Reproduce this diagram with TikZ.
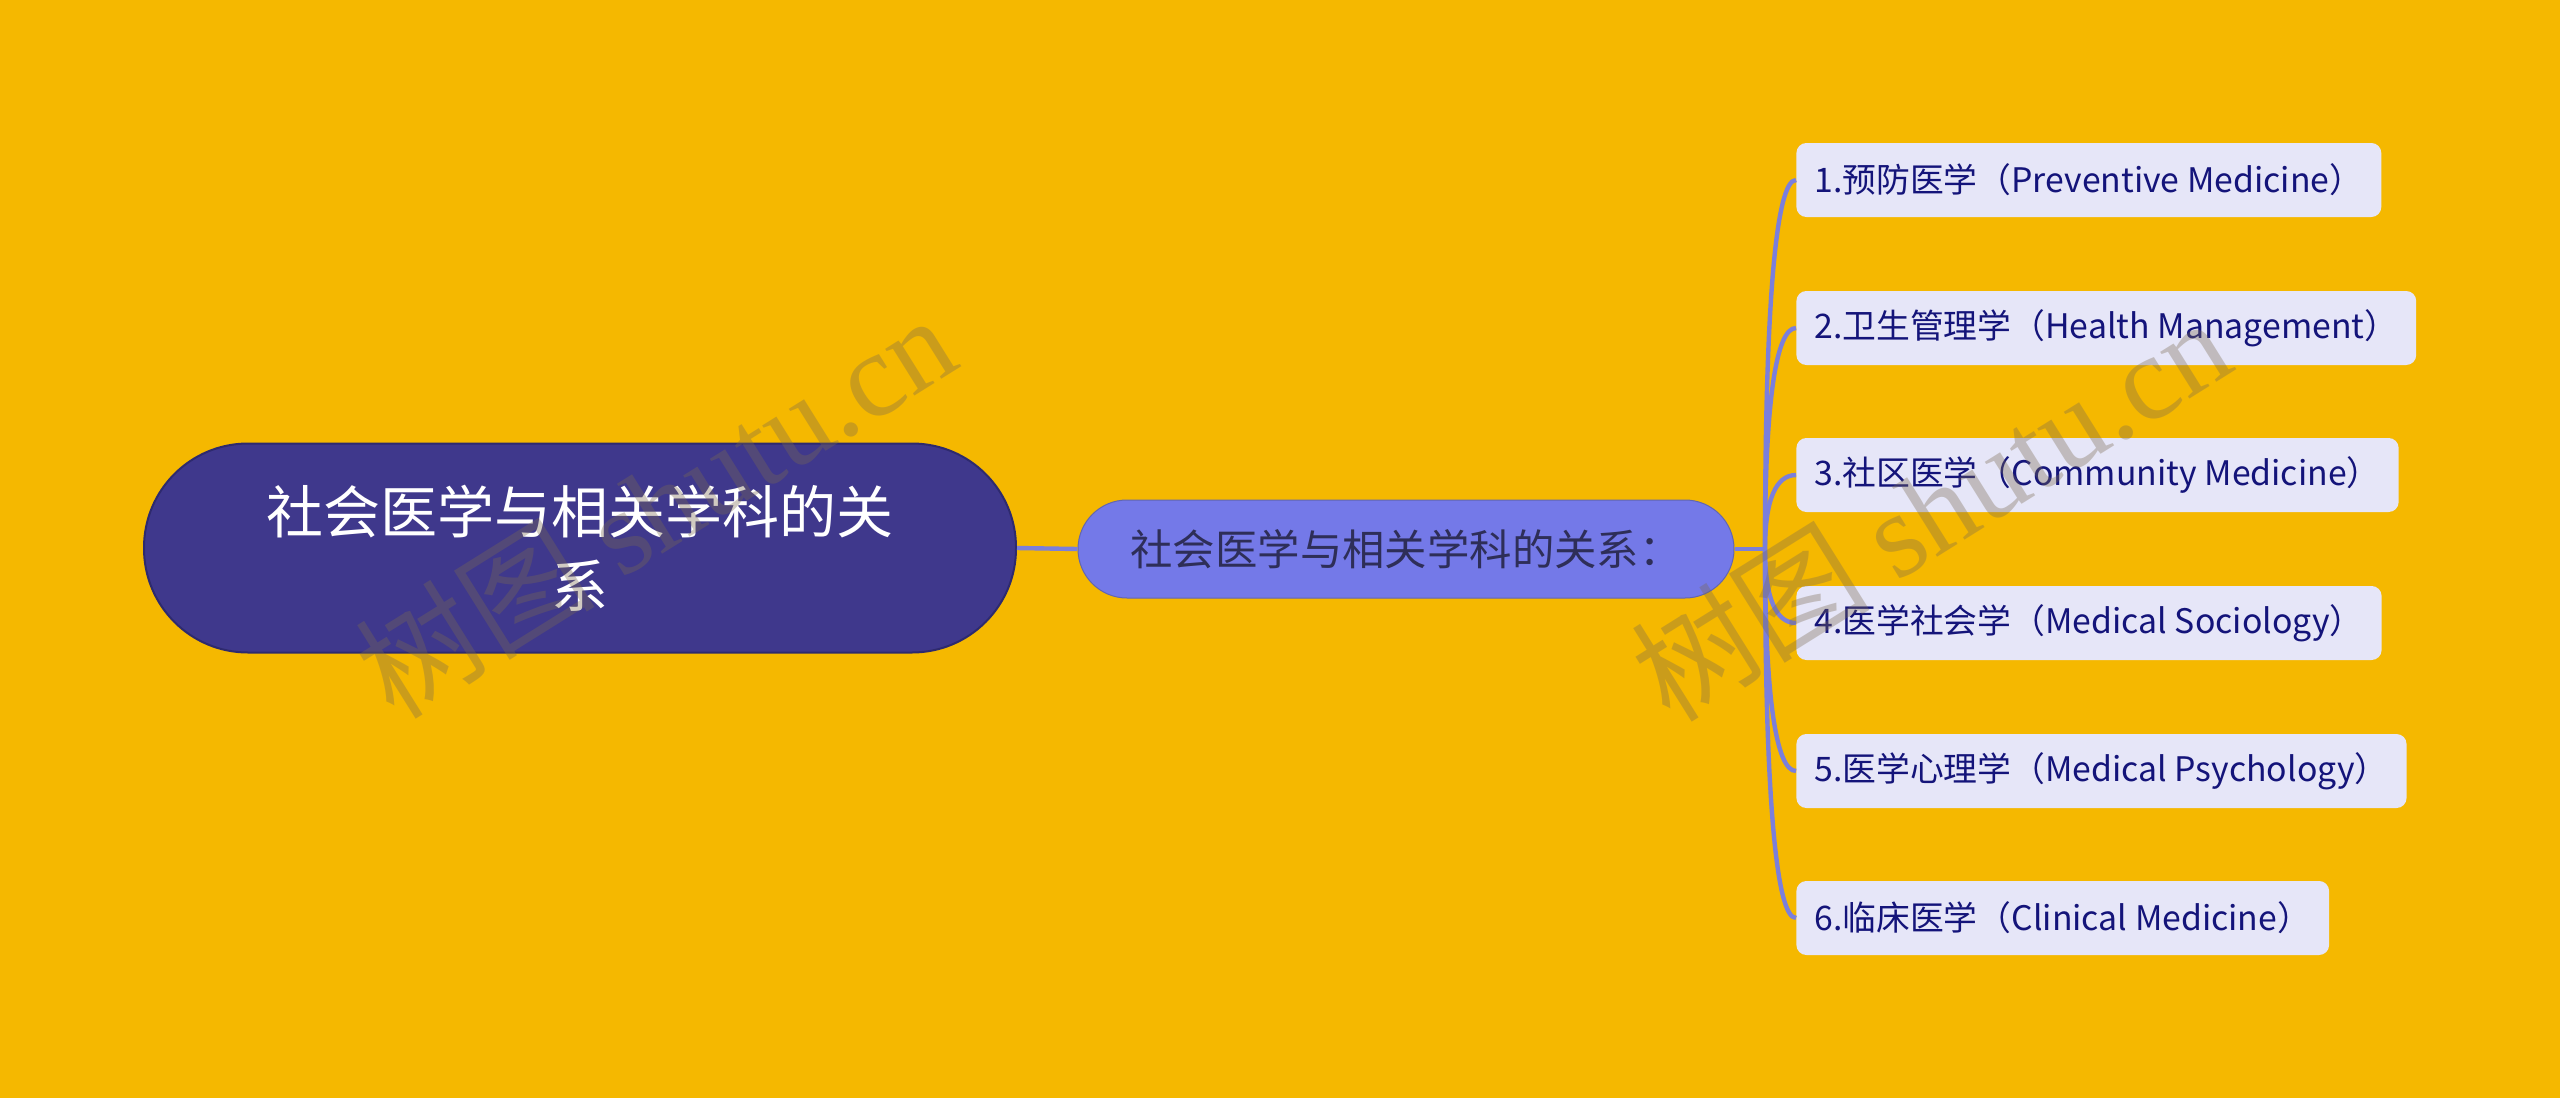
\documentclass[tikz,border=0pt]{standalone}
\usepackage{fontspec}
\setmainfont{Noto Sans CJK SC}
\newfontfamily\wmlatin{Liberation Serif}
\definecolor{bgc}{HTML}{F5B800}
\definecolor{rootfill}{HTML}{3F388C}
\definecolor{rootdraw}{HTML}{2E2A6E}
\definecolor{midfill}{HTML}{7479E8}
\definecolor{midtext}{HTML}{2E2E58}
\definecolor{leaffill}{HTML}{E6E6F8}
\definecolor{leaftext}{HTML}{14147A}
\definecolor{linkc}{HTML}{7B7FDB}
\definecolor{wmc}{HTML}{7A6A50}
\tikzset{
  rootbox/.style={fill=rootfill, draw=rootdraw, line width=1pt, rounded corners=52pt,
    minimum width=436pt, minimum height=104.5pt, inner sep=0pt, align=center,
    text=white, font=\fontsize{28.5}{37}\selectfont},
  midbox/.style={fill=midfill, draw=linkc!80!black, line width=0.5pt, rounded corners=24.5pt,
    minimum width=328pt, minimum height=49pt, inner sep=0pt,
    text=midtext, font=\fontsize{21.2}{24}\selectfont},
  leafbox/.style={fill=leaffill, rounded corners=5pt, anchor=west,
    minimum height=37pt, inner xsep=9pt, inner ysep=0pt,
    text=leaftext, font=\fontsize{16.9}{20}\selectfont},
  link/.style={draw=linkc, line width=2.2pt},
  wm/.style={text=wmc, opacity=0.35, font=\fontsize{60}{60}\selectfont, rotate=32}
}
\begin{document}
\begin{tikzpicture}[x=0.5pt,y=-0.5pt]
\fill[bgc] (0,0) rectangle (2560,1098);
\useasboundingbox (0,0) rectangle (2560,1098);

\coordinate (hub) at (1765,549);
\node[rootbox] (root) at (580,548) {社会医学与相关学科的关\\系};
\node[midbox] (mid) at (1406,549) {社会医学与相关学科的关系：};

\node[leafbox] (c1) at (1796,180) {1.预防医学（Preventive Medicine）};
\node[leafbox] (c2) at (1796,328) {2.卫生管理学（Health Management）};
\node[leafbox] (c3) at (1796,475) {3.社区医学（Community Medicine）};
\node[leafbox] (c4) at (1796,623) {4.医学社会学（Medical Sociology）};
\node[leafbox] (c5) at (1796,771) {5.医学心理学（Medical Psychology）};
\node[leafbox] (c6) at (1796,918) {6.临床医学（Clinical Medicine）};

\draw[link] (root.east) -- (mid.west);
\draw[link] (mid.east) -- (hub);
\foreach \c/\cy in {c1/180,c2/328,c3/475,c4/623,c5/771,c6/918}{
  \draw[link] (hub) .. controls (1765,{549+2*(\cy-549)/3}) and (1776,\cy) .. (\c.west);
}

\node[wm] (wm1) at (655,505) {树图 {\wmlatin shutu.cn}};
\node[wm] (wm2) at (1930,508) {树图 {\wmlatin shutu.cn}};
\end{tikzpicture}
\end{document}
